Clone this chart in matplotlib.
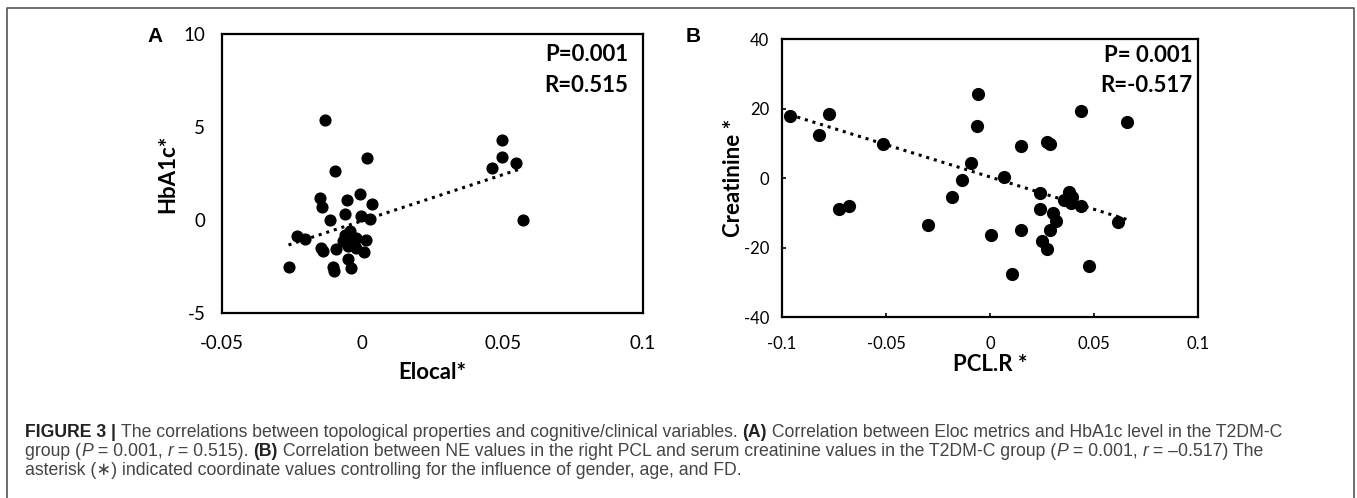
import matplotlib
matplotlib.use("Agg")
import matplotlib.pyplot as plt
import numpy as np

# panel A: Elocal* vs HbA1c*
elocal = [-0.0134, -0.0099, 0.0018, -0.0152, -0.0143, -0.0053, -0.0010, 0.0035,
          -0.0063, -0.0115, -0.0006, 0.0026, -0.0233, -0.0206, -0.0146, -0.0140,
          -0.0093, -0.0069, -0.0045, -0.0039, -0.0021, -0.0051, -0.0021, 0.0012,
          0.0006, -0.0051, -0.0039, -0.0104, -0.0101, -0.0263, -0.0060, -0.0030,
          0.0462, 0.0498, 0.0498, 0.0546, 0.0571]
hba1c = [5.37, 2.63, 3.33, 1.20, 0.72, 1.08, 1.38, 0.84, 0.34, -0.02, 0.22, 0.08,
         -0.86, -1.00, -1.48, -1.65, -1.58, -1.13, -0.59, -1.04, -0.95, -1.40,
         -1.48, -1.09, -1.72, -2.08, -2.60, -2.53, -2.74, -2.51, -0.80, -1.25,
         2.81, 4.29, 3.38, 3.08, -0.02]
fit_a = (49.5, -0.04)  # slope, intercept of the trend line

# panel B: PCL.R * vs Creatinine *
pclr = [-0.0963, -0.0776, -0.0823, -0.0514, -0.0728, -0.0676, -0.0296, -0.0185,
        -0.0134, -0.0089, -0.0056, -0.0062, 0.0067, 0.0006, 0.0149, 0.0150,
        0.0104, 0.0240, 0.0240, 0.0275, 0.0288, 0.0304, 0.0315, 0.0288, 0.0249,
        0.0275, 0.0355, 0.0379, 0.0395, 0.0391, 0.0439, 0.0439, 0.0478, 0.0613,
        0.0658]
creat = [17.7, 18.5, 12.3, 9.8, -8.9, -8.0, -13.4, -5.6, -0.7, 4.2, 24.3, 15.1,
         0.3, -16.5, 9.2, -15.1, -27.5, -4.2, -8.8, 10.3, 9.8, -10.2, -12.3,
         -15.1, -18.1, -20.4, -6.3, -3.9, -5.4, -7.3, -8.1, 19.3, -25.2, -12.7,
         16.0]
fit_b = (-186.0, 0.3)

caption = [
    [("FIGURE 3 | ", "bold"), ("The correlations between topological properties and cognitive/clinical variables. ", "normal"),
     ("(A)", "bold"), (" Correlation between Eloc metrics and HbA1c level in the T2DM-C", "normal")],
    [("group (", "normal"), ("P", "italic"), (" = 0.001, ", "normal"), ("r", "italic"), (" = 0.515). ", "normal"),
     ("(B)", "bold"), (" Correlation between NE values in the right PCL and serum creatinine values in the T2DM-C group (", "normal"),
     ("P", "italic"), (" = 0.001, ", "normal"), ("r", "italic"), (" = \u20130.517) The", "normal")],
    [("asterisk (\u2217) indicated coordinate values controlling for the influence of gender, age, and FD.", "normal")],
]

W, H = 1357, 498
fig = plt.figure(figsize=(W / 100, H / 100), dpi=100)
plt.rcParams["font.family"] = ["Lato", "DejaVu Sans"]


def px_axes(x0, y0, x1, y1):
    return fig.add_axes([x0 / W, 1 - y1 / H, (x1 - x0) / W, (y1 - y0) / H])


def style(ax, fs, pad_x, pad_y, tick_len):
    for s in ax.spines.values():
        s.set_linewidth(1.6)
    ax.tick_params(labelsize=fs, length=tick_len, width=1.2, direction="in")
    ax.tick_params(axis="x", pad=pad_x)
    ax.tick_params(axis="y", pad=pad_y)


def trend(ax, x, fit):
    xs = np.array([min(x), max(x)])
    ax.plot(xs, fit[0] * xs + fit[1], ls=(0, (1, 1.6)), color="black", lw=2.2)


ax_a = px_axes(222, 34, 643, 313)
ax_a.scatter(elocal, hba1c, s=60, color="black", zorder=3)
trend(ax_a, elocal, fit_a)
ax_a.set_xlim(-0.05, 0.1)
ax_a.set_ylim(-5, 10)
ax_a.set_xticks([-0.05, 0, 0.05, 0.1], ["-0.05", "0", "0.05", "0.1"])
ax_a.set_yticks([-5, 0, 5, 10], ["-5", "0", "5", "10"])
style(ax_a, 13.5, 16, 12, 0)
ax_a.set_xlabel("Elocal*", fontsize=16, fontweight="bold", labelpad=7)
ax_a.set_ylabel("HbA1c*", fontsize=16, fontweight="bold", labelpad=4)

ax_b = px_axes(782, 39, 1198, 317)
ax_b.scatter(pclr, creat, s=72, color="black", zorder=3)
trend(ax_b, pclr, fit_b)
ax_b.set_xlim(-0.1, 0.1)
ax_b.set_ylim(-40, 40)
ax_b.set_xticks([-0.1, -0.05, 0, 0.05, 0.1], ["-0.1", "-0.05", "0", "0.05", "0.1"])
ax_b.set_yticks([-40, -20, 0, 20, 40], ["-40", "-20", "0", "20", "40"])
style(ax_b, 12, 14, 9, 3)
ax_b.set_xlabel("PCL.R *", fontsize=16, fontweight="bold", labelpad=1)
ax_b.set_ylabel("Creatinine *", fontsize=16, fontweight="bold", labelpad=0)

# stats boxes
for x, ys, lines in [(628, (54.5, 85.5), ("P=0.001", "R=0.515")),
                     (1192, (55, 85), ("P= 0.001", "R=-0.517"))]:
    for y, t in zip(ys, lines):
        fig.text(x / W, 1 - y / H, t, ha="right", va="center",
                 fontsize=16, fontweight="bold")

fig.text(155 / W, 1 - 36 / H, "A", ha="center", va="center", fontsize=15, fontweight="bold",
         family="Liberation Sans")
fig.text(693 / W, 1 - 36 / H, "B", ha="center", va="center", fontsize=15, fontweight="bold",
         family="Liberation Sans")

# caption frame (open at the bottom)
fig.add_artist(plt.Line2D([7 / W, 7 / W, 1354 / W, 1354 / W], [0, 1 - 8 / H, 1 - 8 / H, 0],
                          transform=fig.transFigure, color="#555555", lw=1.2))

# caption text, placed run by run
fig.canvas.draw()
renderer = fig.canvas.get_renderer()
for i, runs in enumerate(caption):
    x = 25
    y = 432 + i * 19
    for txt, kind in runs:
        kw = dict(fontsize=12.7, family=["Liberation Sans", "DejaVu Sans"], va="center", ha="left")
        if kind == "bold":
            kw["fontweight"] = "bold"
            kw["color"] = "#222222"
        else:
            kw["color"] = "#444444"
        if kind == "italic":
            kw["fontstyle"] = "italic"
        t = fig.text(x / W, 1 - y / H, txt, **kw)
        x += t.get_window_extent(renderer).width

fig.savefig("out.png", dpi=100)
